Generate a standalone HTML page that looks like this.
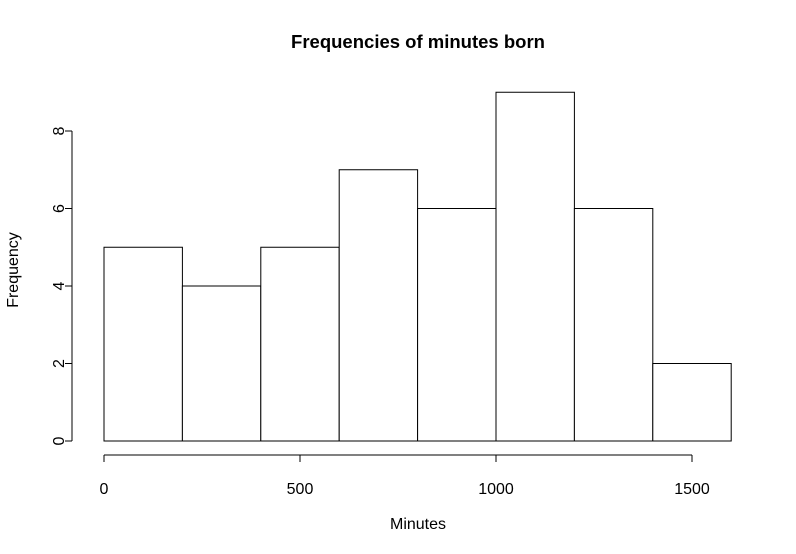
<!DOCTYPE html>
<html><head><meta charset="utf-8"><style>
html,body{margin:0;padding:0;background:#fff;}
svg{display:block;font-family:"Liberation Sans",Arial,sans-serif;}
</style></head><body>
<svg id="chart" width="796" height="554" viewBox="0 0 796 554">
<text x="418" y="48" text-anchor="middle" font-size="18.5" font-weight="bold">Frequencies of minutes born</text>
<text x="418" y="529" text-anchor="middle" font-size="16">Minutes</text>
<text transform="translate(18,270) rotate(-90)" text-anchor="middle" font-size="16">Frequency</text>
<g id="bars"></g><g id="xaxis"></g><g id="yaxis"></g>
</svg>
<script>
const binEdges = [0,200,400,600,800,1000,1200,1400,1600];
const counts = [5,4,5,7,6,9,6,2];
const xTicks = [0,500,1000,1500];
const yTicks = [0,2,4,6,8];
const NS="http://www.w3.org/2000/svg";
function xs(v){return 104+v*0.392;}
function ys(v){return 441-v*38.75;}
function mk(tag,attrs,parent){const e=document.createElementNS(NS,tag);for(const k in attrs)e.setAttribute(k,attrs[k]);parent.appendChild(e);return e;}
const bars=document.getElementById('bars');
counts.forEach((c,i)=>{
  const x0=xs(binEdges[i]),x1=xs(binEdges[i+1]);
  const r=mk('rect',{x:x0,y:ys(c),width:x1-x0,height:ys(0)-ys(c),fill:'#fff',stroke:'#000','stroke-width':1},bars);
  
  
});
const xa=document.getElementById('xaxis');


mk('line',{x1:xs(xTicks[0]),x2:xs(xTicks[xTicks.length-1]),y1:455,y2:455,stroke:'#000'},xa);
xTicks.forEach(t=>{
  mk('line',{x1:xs(t),x2:xs(t),y1:455,y2:462,stroke:'#000'},xa);
  const tx=mk('text',{x:xs(t),y:494,'text-anchor':'middle','font-size':16},xa);
  tx.textContent=t;
  
  
});
const ya=document.getElementById('yaxis');


mk('line',{x1:72,x2:72,y1:ys(yTicks[0]),y2:ys(yTicks[yTicks.length-1]),stroke:'#000'},ya);
yTicks.forEach(t=>{
  mk('line',{x1:65,x2:72,y1:ys(t),y2:ys(t),stroke:'#000'},ya);
  const tx=mk('text',{transform:'translate(64,'+ys(t)+') rotate(-90)','text-anchor':'middle','font-size':16},ya);
  tx.textContent=t;
  
  
});
</script>
</body></html>
